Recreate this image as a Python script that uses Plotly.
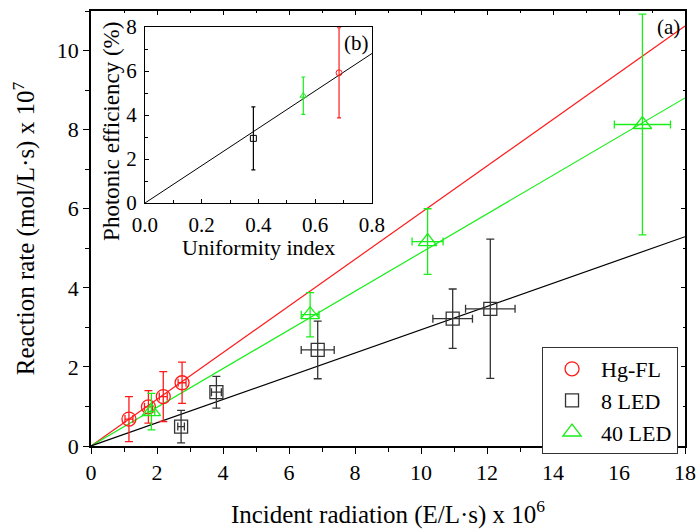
import plotly.graph_objects as go

# ---- main panel (a): reaction rate vs incident radiation ----
hg_x = [1.15, 1.74, 2.19, 2.76]
hg_y = [0.68, 0.99, 1.25, 1.60]
hg_ey = [0.57, 0.41, 0.63, 0.52]
hg_ex = [0.12, 0.12, 0.12, 0.12]

led8_x = [2.73, 3.80, 6.87, 10.96, 12.10]
led8_y = [0.49, 1.36, 2.43, 3.22, 3.47]
led8_ey = [0.41, 0.40, 0.73, 0.75, 1.76]
led8_ex = [0.10, 0.15, 0.50, 0.60, 0.75]

led40_x = [1.83, 6.64, 10.20, 16.71]
led40_y = [0.87, 3.32, 5.17, 8.13]
led40_ey = [0.46, 0.56, 0.83, 2.79]
led40_ex = [0.10, 0.27, 0.47, 0.85]

# slopes of the linear fits through the origin
fit_slopes = {"Hg-FL": 0.590, "8 LED": 0.294, "40 LED": 0.489}
fit_x = [0, 18]

# ---- inset (b): photonic efficiency vs uniformity index ----
inset_x = [0.382, 0.558, 0.684]
inset_y = [2.94, 4.88, 5.92]
inset_ey = [1.43, 0.85, 2.05]
inset_fit_slope = 8.5
inset_fit_x = [0, 0.8]

RED = "#ff1a1a"
BLACK = "#000000"
GREEN = "#19ee19"
FONT = "Liberation Serif, Times New Roman, serif"
TICK_SIZE = 22
TITLE_SIZE = 25
INSET_SIZE = 21

fig = go.Figure()

# fit lines
for name, col in [("Hg-FL", RED), ("40 LED", GREEN), ("8 LED", BLACK)]:
    s = fit_slopes[name]
    fig.add_trace(go.Scatter(x=fit_x, y=[s * v for v in fit_x], mode="lines",
                             line=dict(color=col, width=1.2), showlegend=False,
                             hoverinfo="skip"))

def series(name, xs, ys, ex, ey, col, symbol, size):
    return go.Scatter(
        x=xs, y=ys, mode="markers", name=name,
        marker=dict(symbol=symbol, size=size, color=col,
                    line=dict(color=col, width=1.3)),
        error_y=dict(type="data", array=ey, color=col, thickness=1.3, width=4),
        error_x=dict(type="data", array=ex, color=col, thickness=1.3, width=4),
    )

fig.add_trace(series("Hg-FL", hg_x, hg_y, hg_ex, hg_ey, RED, "circle-open", 14))
fig.add_trace(series("8 LED", led8_x, led8_y, led8_ex, led8_ey, "#333333", "square-open", 13))
fig.add_trace(series("40 LED", led40_x, led40_y, led40_ex, led40_ey, GREEN, "triangle-up-open", 16))

# inset traces
fig.add_trace(go.Scatter(x=inset_fit_x, y=[inset_fit_slope * v for v in inset_fit_x],
                         mode="lines", line=dict(color=BLACK, width=1),
                         xaxis="x2", yaxis="y2", showlegend=False, hoverinfo="skip"))
inset_cols = [BLACK, GREEN, RED]
inset_syms = ["square-open", "triangle-up-open", "circle-open"]
for i in range(3):
    fig.add_trace(go.Scatter(
        x=[inset_x[i]], y=[inset_y[i]], mode="markers",
        marker=dict(symbol=inset_syms[i], size=6, color=inset_cols[i],
                    line=dict(color=inset_cols[i], width=1)),
        error_y=dict(type="data", array=[inset_ey[i]], color=inset_cols[i],
                     thickness=1.2, width=2),
        xaxis="x2", yaxis="y2", showlegend=False))

# helper trace for inward mirror ticks on top/right of main frame
fig.add_trace(go.Scatter(x=[None], y=[None], xaxis="x3", yaxis="y3",
                         showlegend=False, hoverinfo="skip"))

axis_common = dict(showgrid=False, zeroline=False, showline=True, linecolor="black",
                   linewidth=1.5, tickcolor="black", automargin=False,
                   tickfont=dict(family=FONT, size=TICK_SIZE, color="black"))

fig.update_layout(
    width=696, height=530,
    margin=dict(l=91, r=11, t=11, b=84),
    paper_bgcolor="white", plot_bgcolor="white",
    font=dict(family=FONT, size=TICK_SIZE, color="black"),
    xaxis=dict(range=[0, 18], dtick=2, ticks="outside", ticklen=6, tickwidth=1.3,
               minor=dict(dtick=1, ticks="outside", ticklen=4, tickcolor="black"),
               mirror=True,
               title=dict(text="Incident radiation (E/L·s) x 10<sup>6</sup>",
                          font=dict(family=FONT, size=TITLE_SIZE), standoff=21),
               **axis_common),
    yaxis=dict(range=[0, 11], dtick=2, ticks="outside", ticklen=6, tickwidth=1.3,
               minor=dict(dtick=1, ticks="outside", ticklen=4, tickcolor="black"),
               mirror=True,
               title=dict(text="Reaction rate (mol/L·s) x 10<sup>7</sup>",
                          font=dict(family=FONT, size=TITLE_SIZE), standoff=15),
               **axis_common),
    xaxis3=dict(range=[0, 18], dtick=2, overlaying="x", side="top", anchor="y3",
                ticks="inside", ticklen=4, showticklabels=False, showgrid=False,
                zeroline=False, showline=False, tickcolor="black", automargin=False,
                minor=dict(dtick=1, ticks="inside", ticklen=2, tickcolor="black")),
    yaxis3=dict(range=[0, 11], dtick=2, overlaying="y", side="right", anchor="x3",
                ticks="inside", ticklen=4, showticklabels=False, showgrid=False,
                zeroline=False, showline=False, tickcolor="black", automargin=False,
                minor=dict(dtick=1, ticks="inside", ticklen=2, tickcolor="black")),
    xaxis2=dict(domain=[0.0909, 0.473], anchor="y2", range=[0, 0.8], dtick=0.2,
                tickformat=".1f", ticks="inside", ticklen=4, automargin=False,
                ticklabelstandoff=3,
                minor=dict(dtick=0.1, ticks="inside", ticklen=3, tickcolor="black"),
                mirror=True, showgrid=False, zeroline=False, showline=True,
                linecolor="black", linewidth=1, tickcolor="black",
                tickfont=dict(family=FONT, size=INSET_SIZE, color="black")),
    yaxis2=dict(domain=[0.5586, 0.963], anchor="x2", range=[0, 8], dtick=2,
                ticks="inside", ticklen=4, automargin=False,
                ticklabelstandoff=3,
                minor=dict(dtick=1, ticks="inside", ticklen=3, tickcolor="black"),
                mirror=True, showgrid=False, zeroline=False, showline=True,
                linecolor="black", linewidth=1, tickcolor="black",
                tickfont=dict(family=FONT, size=INSET_SIZE, color="black")),
    legend=dict(x=0.7593, y=0.2276, xanchor="left", yanchor="top",
                bordercolor="#333333", borderwidth=1, bgcolor="white",
                font=dict(family=FONT, size=22), itemwidth=48,
                tracegroupgap=0),
    annotations=[
        dict(text="(a)", xref="paper", yref="paper", x=0.995, y=0.995,
             xanchor="right", yanchor="top", showarrow=False,
             font=dict(family=FONT, size=21)),
        dict(text="(b)", xref="x2 domain", yref="y2 domain", x=0.995, y=0.99,
             xanchor="right", yanchor="top", showarrow=False,
             font=dict(family=FONT, size=21)),
        # inset axis titles
        dict(text="Photonic efficiency (%)", xref="paper", yref="paper",
             x=0.0334, y=0.724, xanchor="center", yanchor="middle", textangle=-90,
             showarrow=False, font=dict(family=FONT, size=23)),
        dict(text="Uniformity index", xref="x2 domain", yref="paper",
             x=0.5, y=0.456, xanchor="center", yanchor="middle",
             showarrow=False, font=dict(family=FONT, size=22)),
    ],
)

fig.write_html("out.html")
